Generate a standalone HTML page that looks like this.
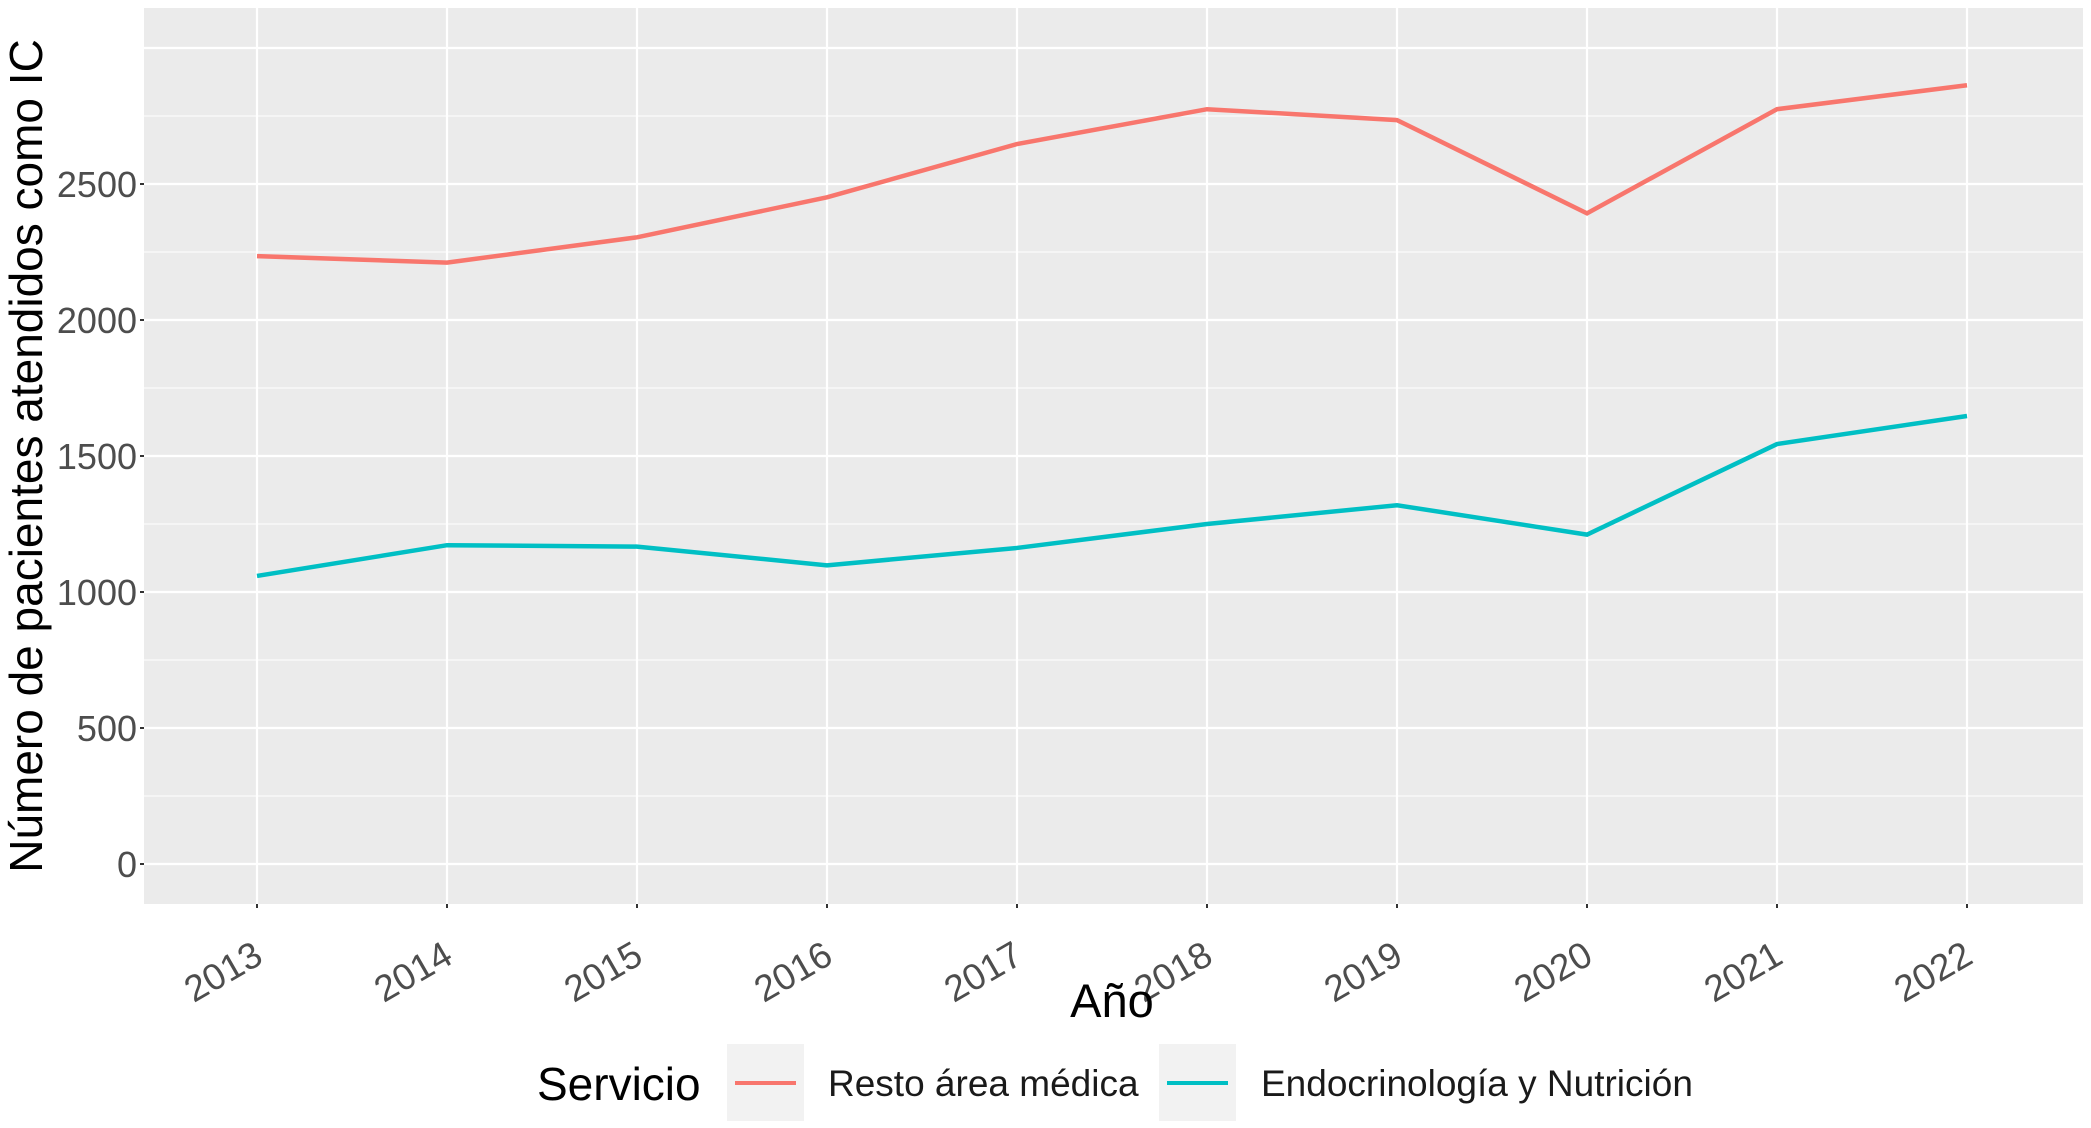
<!DOCTYPE html>
<html><head><meta charset="utf-8"><style>body{margin:0;background:#fff}svg{display:block;font-family:"Liberation Sans",sans-serif}</style></head>
<body>
<svg id="chart" width="2091" height="1128" viewBox="0 0 2091 1128">
<rect x="144" y="8" width="1939" height="896" fill="#EBEBEB"/>
<g id="grid"></g><g id="lines"></g><g id="axes"></g>
<text x="1112" y="1017" font-size="47" text-anchor="middle" fill="#000">Año</text>
<text transform="translate(42,456) rotate(-90)" font-size="46" text-anchor="middle" fill="#000">Número de pacientes atendidos como IC</text>
<g>
<text x="537" y="1100" font-size="46" fill="#000">Servicio</text>
<rect x="727" y="1044" width="77" height="77" fill="#F2F2F2"/>
<line x1="735" y1="1083" x2="796" y2="1083" stroke="#F8766D" stroke-width="4"/>
<text x="828" y="1096" font-size="37" fill="#1a1a1a">Resto área médica</text>
<rect x="1159" y="1044" width="77" height="77" fill="#F2F2F2"/>
<line x1="1167" y1="1083" x2="1228" y2="1083" stroke="#00BFC4" stroke-width="4"/>
<text x="1261" y="1096" font-size="37" fill="#1a1a1a">Endocrinología y Nutrición</text>
</g>
</svg>
<script>
const years=[2013,2014,2015,2016,2017,2018,2019,2020,2021,2022];
const resto=[2235,2211,2304,2451,2647,2775,2735,2392,2775,2863];
const endo=[1059,1172,1167,1098,1162,1250,1319,1211,1544,1647];
const yTicks=[0,500,1000,1500,2000,2500];
const NS="http://www.w3.org/2000/svg";
const x=i=>257+i*190;
const y=v=>864-v*136/500;
function mk(t,a,p){const e=document.createElementNS(NS,t);for(const k in a)e.setAttribute(k,a[k]);p.appendChild(e);return e;}
const g=document.getElementById('grid'),L=document.getElementById('lines'),A=document.getElementById('axes');
for(let v=-250;v<=3000;v+=250){if(y(v)<8||y(v)>904)continue;const major=v%500===0;
const l=mk('line',{x1:144,x2:2083,y1:y(v),y2:y(v),stroke:'#fff','stroke-width':major?2.2:1.1},g);

}
years.forEach((yr,i)=>{const l=mk('line',{x1:x(i),x2:x(i),y1:8,y2:904,stroke:'#fff','stroke-width':2.2},g);


mk('line',{x1:x(i),x2:x(i),y1:904,y2:908,stroke:'#333','stroke-width':2},A);
const t=mk('text',{transform:`translate(${x(i)+8},${962}) rotate(-30)`,'text-anchor':'end','font-size':37,fill:'#4d4d4d'},A);t.textContent=yr;

});
yTicks.forEach(v=>{mk('line',{x1:140,x2:144,y1:y(v),y2:y(v),stroke:'#333','stroke-width':2},A);
const t=mk('text',{x:137,y:y(v)+13,'text-anchor':'end','font-size':36,fill:'#4d4d4d'},A);t.textContent=v;

});
function line(d,c,n){const p=mk('polyline',{points:d.map((v,i)=>x(i)+','+y(v)).join(' '),fill:'none',stroke:c,'stroke-width':4.5},L);

}
line(resto,'#F8766D','line-resto-area-medica');
line(endo,'#00BFC4','line-endocrinologia');
</script>
</body></html>
